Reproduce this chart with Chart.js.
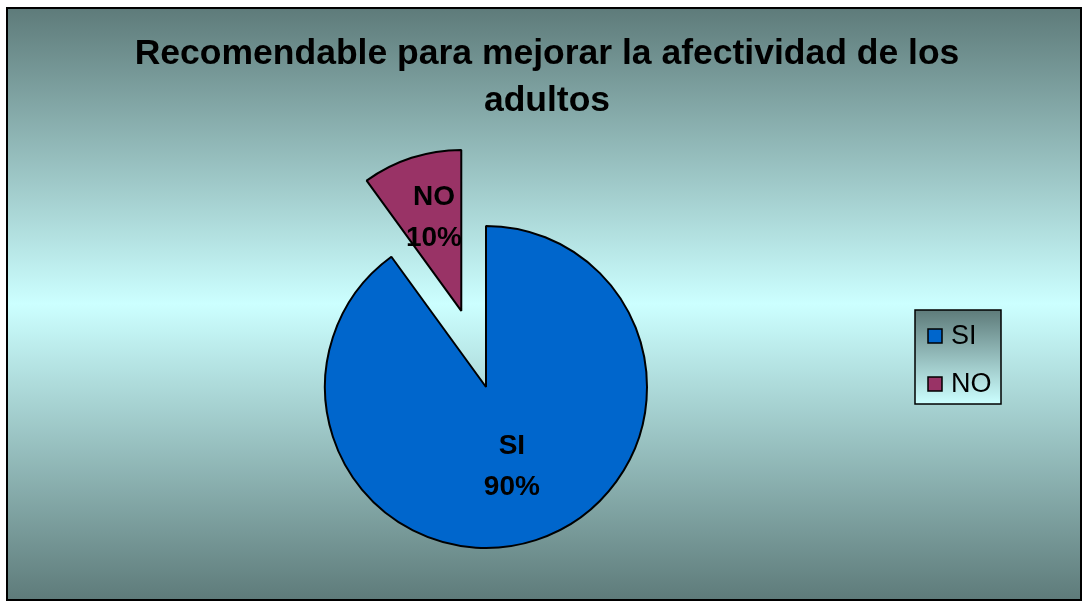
<!DOCTYPE html>
<html>
<head>
<meta charset="utf-8">
<script src="https://cdn.jsdelivr.net/npm/chart.js@4.4.1/dist/chart.umd.min.js"></script>
<style>
  html, body { margin: 0; padding: 0; background: #ffffff; }
  #wrap { position: relative; width: 1083px; height: 601px; }
</style>
</head>
<body>
<div id="wrap"><canvas id="c" width="1083" height="601"></canvas></div>
<script>
const titleLines = ["Recomendable para mejorar la afectividad de los", "adultos"];
const categories = ["SI", "NO"];
const percentValues = [90, 10];
const sliceColors = ["#0066CC", "#993366"];

const FONT = '"Liberation Sans", Arial, sans-serif';
const PIE_RADIUS = 161;

const framePlugin = {
  id: 'frame',
  afterDatasetsUpdate(chart) {
    // keep the exploded slice at the same radius and angle as in the pie
    const meta = chart.getDatasetMeta(0);
    meta.data.forEach((arc) => {
      const off = (arc.options.offset || 0) / 4;
      if (off > 0) {
        const fix = 1 - Math.sin(Math.min(Math.PI, arc.circumference || 0));
        const rOff = off * fix;
        arc.outerRadius = arc.outerRadius - rOff;
        const widen = rOff / (Math.PI * PIE_RADIUS) / 2;
        arc.startAngle -= widen;
        arc.endAngle += widen;
      }
    });
  },
  beforeDraw(chart) {
    const ctx = chart.ctx;
    ctx.save();
    ctx.fillStyle = '#ffffff';
    ctx.fillRect(0, 0, chart.width, chart.height);
    const g = ctx.createLinearGradient(0, 8, 0, 600);
    g.addColorStop(0, '#5E7B7A');
    g.addColorStop(0.5, '#CCFFFF');
    g.addColorStop(1, '#5E7B7A');
    ctx.fillStyle = g;
    ctx.fillRect(7, 8, 1074, 592);
    ctx.lineWidth = 2;
    ctx.strokeStyle = '#000000';
    ctx.strokeRect(7, 8, 1074, 592);
    // title
    ctx.fillStyle = '#000000';
    ctx.font = 'bold 35.5px ' + FONT;
    ctx.textAlign = 'center';
    ctx.textBaseline = 'middle';
    ctx.fillText(titleLines[0], 547, 54);
    ctx.fillText(titleLines[1], 547, 101);
    ctx.restore();
  },
  afterDatasetsDraw(chart) {
    const ctx = chart.ctx;
    const meta = chart.getDatasetMeta(0);
    ctx.save();
    ctx.fillStyle = '#000000';
    ctx.font = 'bold 28px ' + FONT;
    ctx.textAlign = 'center';
    ctx.textBaseline = 'middle';
    const total = percentValues.reduce((a, b) => a + b, 0);
    meta.data.forEach((arc, i) => {
      const mid = (arc.startAngle + arc.endAngle) / 2;
      const off = (arc.options.offset || 0) / 4;
      const cx = arc.x + Math.cos(mid) * off;
      const cy = arc.y + Math.sin(mid) * off;
      const f = off > 0 ? 0.61 : 0.52;
      const lx = cx + Math.cos(mid) * PIE_RADIUS * f + (off > 0 ? 3 : 0);
      const ly = cy + Math.sin(mid) * PIE_RADIUS * f;
      const pct = Math.round(percentValues[i] / total * 100) + '%';
      ctx.fillText(categories[i], lx, ly - 20);
      ctx.fillText(pct, lx, ly + 21);
    });
    ctx.restore();
  },
  afterDraw(chart) {
    const ctx = chart.ctx;
    ctx.save();
    const bx = 915, by = 310, bw = 86, bh = 94;
    const g = ctx.createLinearGradient(0, by, 0, by + bh);
    g.addColorStop(0, '#5E7B7A');
    g.addColorStop(1, '#CCFFFF');
    ctx.fillStyle = g;
    ctx.fillRect(bx, by, bw, bh);
    ctx.lineWidth = 1.5;
    ctx.strokeStyle = '#000000';
    ctx.strokeRect(bx, by, bw, bh);
    ctx.font = '27px ' + FONT;
    ctx.textAlign = 'left';
    ctx.textBaseline = 'middle';
    categories.forEach((lab, i) => {
      const yc = 336 + i * 48;
      ctx.fillStyle = sliceColors[i];
      ctx.fillRect(928, yc - 7, 14, 14);
      ctx.lineWidth = 1.5;
      ctx.strokeStyle = '#000000';
      ctx.strokeRect(928, yc - 7, 14, 14);
      ctx.fillStyle = '#000000';
      ctx.fillText(lab, 951, yc + 1);
    });
    ctx.restore();
  }
};

new Chart(document.getElementById('c'), {
  type: 'pie',
  data: {
    labels: categories,
    datasets: [{
      data: percentValues,
      backgroundColor: sliceColors,
      borderColor: '#000000',
      borderWidth: 2,
      offset: [0, 320],
      hoverOffset: 0,
      clip: false
    }]
  },
  options: {
    responsive: false,
    animation: false,
    events: [],
    radius: PIE_RADIUS,
    layout: { padding: { left: 300, right: 411, top: 200, bottom: 27 } },
    plugins: {
      legend: { display: false },
      title: { display: false },
      tooltip: { enabled: false }
    }
  },
  plugins: [framePlugin]
});
</script>
</body>
</html>
